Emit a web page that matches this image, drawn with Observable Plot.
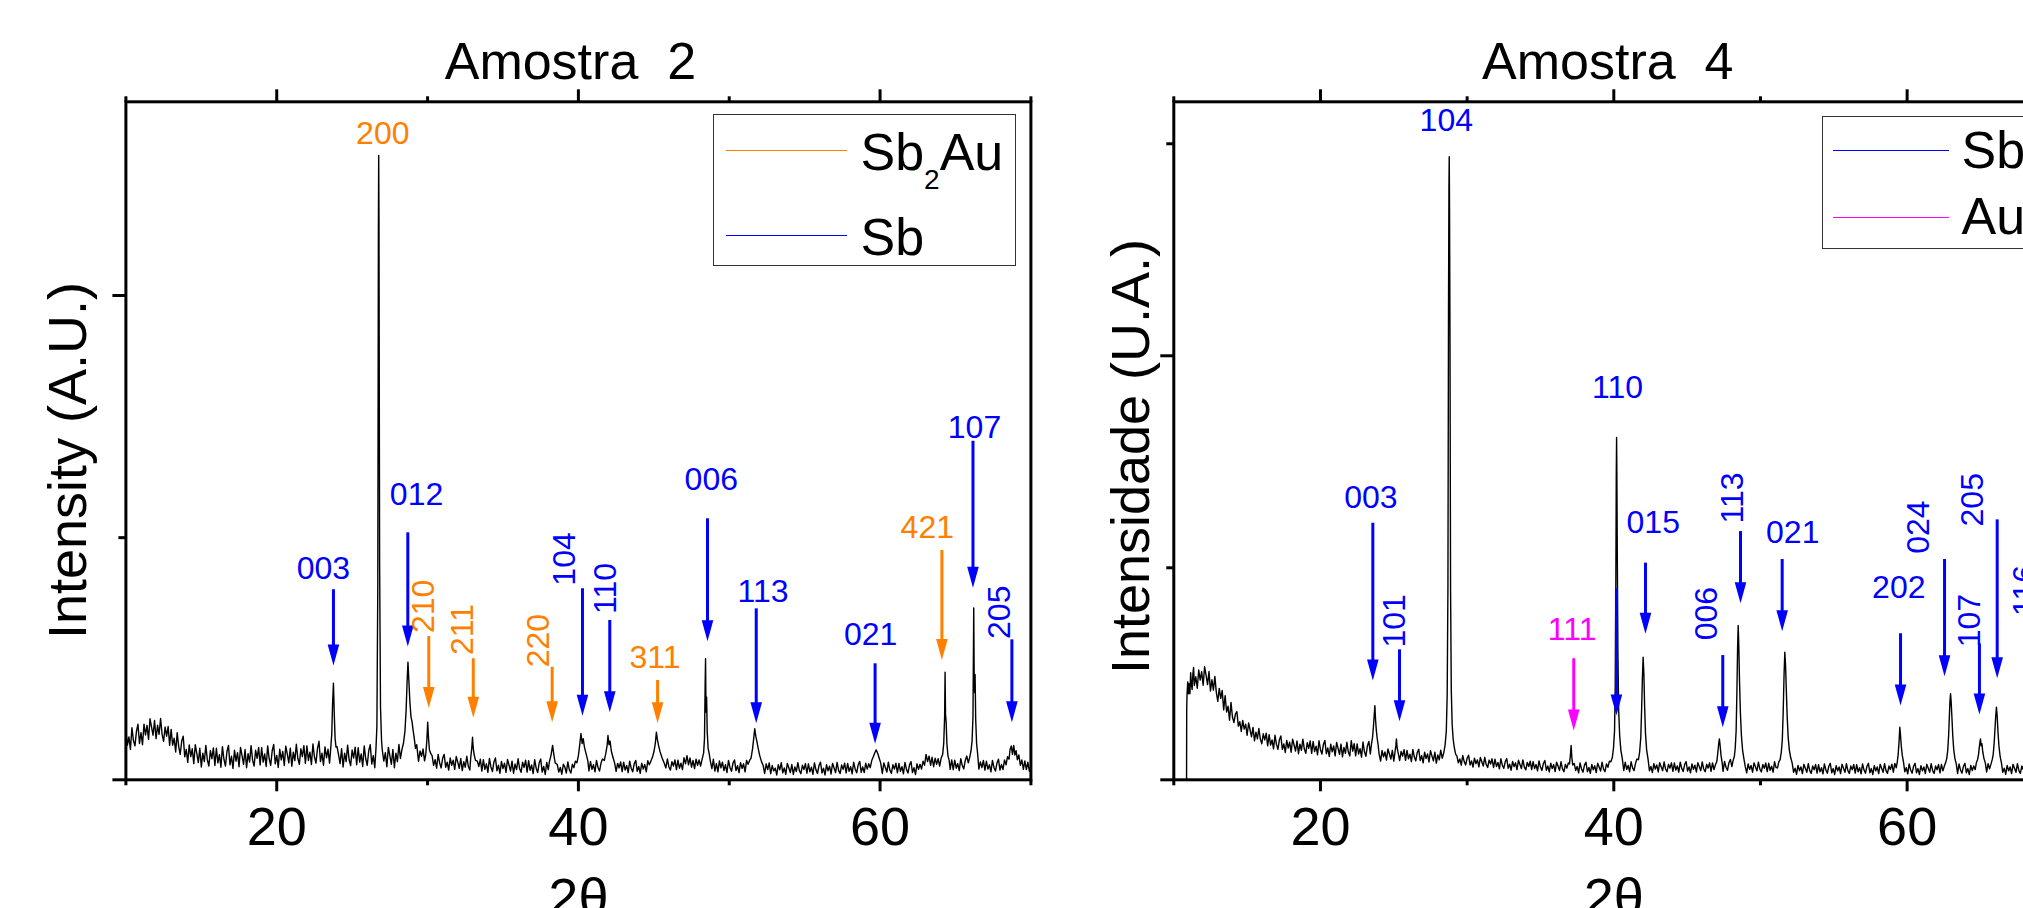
<!DOCTYPE html>
<html><head><meta charset="utf-8">
<script src="https://cdn.jsdelivr.net/npm/d3@7"></script>
<script src="https://cdn.jsdelivr.net/npm/@observablehq/plot@0.6"></script>
<style>
html,body{margin:0;padding:0;overflow:hidden;background:#fff;width:2023px;height:908px}
#wrap{position:relative;width:2023px;height:908px;overflow:hidden}
.panel{position:absolute;top:0}
.legend{position:absolute;border:1.5px solid #333;box-sizing:border-box;background:#fff}
.lline{position:absolute;height:0}
.ltext{position:absolute;font-family:"Liberation Sans",Arial,sans-serif;font-size:52px;line-height:1;white-space:nowrap;color:#000}
</style></head><body><div id="wrap"></div>
<script>
// ---------------- data ----------------
const titles = ["Amostra  2", "Amostra  4"];
const yLabels = ["Intensity (A.U.)", "Intensidade (U.A.)"];
const xLabel = "2θ";
const xMajorTicks = [20, 40, 60];
const xMinorTicks = [10, 30, 50, 70];
const yMajorTicks2 = [0, 2000], yMinorTicks2 = [1000];
const yMajorTicks4 = [0, 2000], yMinorTicks4 = [1000, 3000];
const phaseColors = {Sb2Au: "#ff8000", Sb: "#0000ff", Au: "#ff00ff"};
const legend2 = ["Sb2Au", "Sb"];
const legend4 = ["Sb", "Au"];

// XRD pattern, sample 2: [2θ, counts]
const pattern2 = [[10.0,203],[10.1,143],[10.2,177],[10.3,125],[10.4,215],[10.5,162],[10.6,140],[10.7,200],[10.8,230],[10.9,150],[11.0,195],[11.1,145],[11.2,230],[11.3,185],[11.4,225],[11.5,167],[11.6,252],[11.7,218],[11.8,184],[11.9,245],[12.0,170],[12.1,225],[12.2,188],[12.3,253],[12.4,188],[12.5,159],[12.6,218],[12.7,180],[12.8,220],[12.9,142],[13.0,208],[13.1,143],[13.2,172],[13.3,115],[13.4,195],[13.5,137],[13.6,105],[13.7,160],[13.8,180],[13.9,95],[14.0,125],[14.1,72],[14.2,144],[14.3,96],[14.4,128],[14.5,67],[14.6,145],[14.7,109],[14.8,71],[14.9,130],[15.0,53],[15.1,110],[15.2,75],[15.3,142],[15.4,82],[15.5,57],[15.6,121],[15.7,87],[15.8,132],[15.9,59],[16.0,130],[16.1,70],[16.2,104],[16.3,52],[16.4,137],[16.5,84],[16.6,57],[16.7,117],[16.8,142],[16.9,62],[17.0,97],[17.1,47],[17.2,122],[17.3,77],[17.4,112],[17.5,54],[17.6,134],[17.7,100],[17.8,64],[17.9,125],[18.0,50],[18.1,108],[18.2,73],[18.3,141],[18.4,81],[18.5,57],[18.6,122],[18.7,89],[18.8,134],[18.9,61],[19.0,133],[19.1,73],[19.2,107],[19.3,55],[19.4,140],[19.5,87],[19.6,60],[19.7,120],[19.8,146],[19.9,66],[20.0,101],[20.1,51],[20.2,126],[20.3,82],[20.4,117],[20.5,59],[20.6,139],[20.7,106],[20.8,70],[20.9,131],[21.0,56],[21.1,114],[21.2,79],[21.3,147],[21.4,88],[21.5,64],[21.6,128],[21.7,96],[21.8,141],[21.9,68],[22.0,140],[22.1,80],[22.2,114],[22.3,63],[22.4,148],[22.5,95],[22.6,69],[22.7,129],[22.8,159],[22.9,75],[23.0,110],[23.1,60],[23.2,136],[23.3,91],[23.4,126],[23.5,69],[23.58,130],[23.65,190],[23.7,310],[23.76,399],[23.81,280],[23.87,170],[23.93,135],[24.0,137],[24.1,103],[24.2,67],[24.3,128],[24.4,53],[24.5,110],[24.6,75],[24.7,143],[24.8,83],[24.9,59],[25.0,123],[25.1,90],[25.2,135],[25.3,62],[25.4,133],[25.5,73],[25.6,107],[25.7,55],[25.8,140],[25.9,87],[26.0,60],[26.1,120],[26.2,145],[26.3,65],[26.4,100],[26.5,50],[26.58,130],[26.64,220],[26.7,800],[26.74,2250],[26.76,2578],[26.78,2300],[26.82,900],[26.88,300],[26.95,160],[27.0,122],[27.1,77],[27.2,112],[27.3,54],[27.4,134],[27.5,100],[27.6,64],[27.7,125],[27.8,50],[27.9,110],[28.0,75],[28.1,146],[28.2,88],[28.3,125],[28.4,150],[28.5,200],[28.58,290],[28.64,400],[28.7,486],[28.76,410],[28.83,320],[28.9,260],[28.97,240],[29.04,205],[29.12,170],[29.2,130],[29.28,145],[29.4,76],[29.5,119],[29.6,97],[29.7,127],[29.8,78],[29.88,105],[29.95,160],[30.01,238],[30.06,175],[30.12,125],[30.2,110],[30.3,100],[30.4,60],[30.5,83],[30.6,48],[30.7,105],[30.8,70],[30.9,49],[31.0,89],[31.1,105],[31.2,52],[31.3,73],[31.4,40],[31.5,90],[31.6,60],[31.7,81],[31.8,43],[31.9,96],[32.0,73],[32.1,47],[32.2,88],[32.3,38],[32.4,75],[32.5,52],[32.6,97],[32.7,56],[32.8,40],[32.86,90],[32.93,130],[32.98,176],[33.03,130],[33.1,100],[33.18,80],[33.3,77],[33.4,55],[33.5,85],[33.6,36],[33.7,83],[33.8,43],[33.9,66],[34.0,31],[34.1,88],[34.2,53],[34.3,34],[34.4,74],[34.5,90],[34.6,37],[34.7,60],[34.8,27],[34.9,76],[35.0,46],[35.1,69],[35.2,31],[35.3,84],[35.4,61],[35.5,36],[35.6,77],[35.7,27],[35.8,65],[35.9,42],[36.0,87],[36.1,47],[36.2,31],[36.3,73],[36.4,51],[36.5,81],[36.6,32],[36.7,79],[36.8,39],[36.9,61],[37.0,26],[37.1,83],[37.2,48],[37.3,30],[37.4,70],[37.5,86],[37.6,32],[37.7,55],[37.8,22],[37.9,72],[38.0,42],[38.08,75],[38.18,100],[38.29,142],[38.37,105],[38.46,70],[38.6,63],[38.7,32],[38.8,51],[38.9,23],[39.0,64],[39.1,53],[39.2,28],[39.3,74],[39.4,41],[39.5,28],[39.6,64],[39.7,50],[39.8,77],[39.9,70],[40.0,100],[40.08,140],[40.17,191],[40.25,150],[40.32,170],[40.4,135],[40.5,110],[40.62,80],[40.7,37],[40.8,76],[40.9,43],[41.0,62],[41.1,33],[41.2,80],[41.3,51],[41.4,36],[41.5,69],[41.6,86],[41.72,80],[41.82,110],[41.9,140],[41.96,183],[42.03,145],[42.1,160],[42.18,120],[42.28,95],[42.4,70],[42.5,35],[42.6,68],[42.7,49],[42.8,74],[42.9,34],[43.0,73],[43.1,40],[43.2,59],[43.3,30],[43.4,77],[43.5,48],[43.6,33],[43.7,66],[43.8,80],[43.9,35],[44.0,55],[44.1,27],[44.2,69],[44.3,44],[44.4,63],[44.5,33],[44.6,79],[44.7,62],[44.8,77],[44.92,95],[45.02,120],[45.1,150],[45.17,197],[45.24,165],[45.32,140],[45.42,115],[45.55,90],[45.68,70],[45.8,49],[45.9,86],[46.0,53],[46.1,40],[46.2,75],[46.3,57],[46.4,82],[46.5,42],[46.6,81],[46.7,48],[46.8,69],[46.9,42],[47.0,91],[47.1,66],[47.2,100],[47.3,62],[47.4,90],[47.5,52],[47.6,80],[47.7,46],[47.8,85],[47.9,60],[48.0,82],[48.1,57],[48.2,84],[48.3,110],[48.36,170],[48.4,380],[48.43,500],[48.46,280],[48.5,341],[48.54,200],[48.6,130],[48.68,105],[48.75,77],[48.85,46],[48.95,85],[49.05,36],[49.15,67],[49.25,33],[49.35,78],[49.45,49],[49.55,73],[49.65,38],[49.75,62],[49.85,30],[49.95,80],[50.05,51],[50.15,35],[50.25,69],[50.35,82],[50.45,38],[50.55,58],[50.65,30],[50.75,71],[50.85,47],[50.95,66],[51.05,33],[51.15,80],[51.25,64],[51.35,80],[51.45,90],[51.55,130],[51.63,175],[51.69,211],[51.76,180],[51.83,160],[51.92,130],[52.02,100],[52.14,75],[52.25,59],[52.35,26],[52.45,66],[52.55,42],[52.65,70],[52.75,25],[52.85,59],[52.95,37],[53.05,48],[53.15,20],[53.25,62],[53.35,41],[53.45,71],[53.55,29],[53.65,49],[53.75,23],[53.85,68],[53.95,50],[54.05,30],[54.15,63],[54.25,22],[54.35,53],[54.45,34],[54.55,71],[54.65,38],[54.75,25],[54.85,60],[54.95,42],[55.05,67],[55.15,27],[55.25,66],[55.35,33],[55.45,52],[55.55,23],[55.65,70],[55.75,41],[55.85,26],[55.95,59],[56.05,73],[56.15,28],[56.25,48],[56.35,20],[56.45,62],[56.55,37],[56.65,56],[56.75,24],[56.85,68],[56.95,49],[57.05,30],[57.15,72],[57.25,39],[57.35,26],[57.45,61],[57.55,43],[57.65,69],[57.75,29],[57.85,68],[57.95,35],[58.05,54],[58.15,25],[58.25,73],[58.35,44],[58.45,29],[58.55,62],[58.65,76],[58.75,31],[58.85,53],[58.95,30],[59.05,69],[59.15,44],[59.25,66],[59.35,50],[59.45,80],[59.55,95],[59.64,110],[59.74,124],[59.84,110],[59.94,90],[60.04,70],[60.15,26],[60.25,70],[60.35,51],[60.45,32],[60.55,73],[60.65,40],[60.75,27],[60.85,62],[60.95,44],[61.05,69],[61.15,29],[61.25,68],[61.35,35],[61.45,54],[61.55,25],[61.65,72],[61.75,43],[61.85,28],[61.95,61],[62.05,75],[62.15,30],[62.25,50],[62.35,22],[62.45,66],[62.55,43],[62.65,64],[62.75,44],[62.85,77],[62.95,60],[63.05,105],[63.15,75],[63.25,98],[63.35,60],[63.45,93],[63.55,54],[63.65,89],[63.75,64],[63.85,87],[63.95,57],[64.05,90],[64.15,105],[64.22,150],[64.28,260],[64.31,444],[64.34,270],[64.38,240],[64.43,150],[64.5,100],[64.58,80],[64.65,43],[64.75,82],[64.85,42],[64.95,81],[65.05,48],[65.15,67],[65.25,38],[65.35,87],[65.45,59],[65.55,45],[65.65,80],[65.75,98],[65.85,70],[65.95,95],[66.03,120],[66.1,160],[66.16,260],[66.21,710],[66.24,420],[66.27,360],[66.3,435],[66.34,250],[66.4,150],[66.48,100],[66.55,44],[66.65,74],[66.75,50],[66.85,80],[66.95,40],[67.05,77],[67.15,44],[67.25,62],[67.35,33],[67.45,80],[67.55,51],[67.65,36],[67.75,69],[67.85,85],[67.95,40],[68.05,63],[68.15,42],[68.25,82],[68.35,62],[68.45,95],[68.55,85],[68.62,125],[68.7,140],[68.78,105],[68.86,142],[68.94,102],[69.02,120],[69.1,83],[69.2,103],[69.3,60],[69.4,82],[69.5,43],[69.6,78],[69.7,42],[69.8,73],[69.9,35],[70.0,60]];

// XRD pattern, sample 4: [2θ, counts]
const pattern4 = [[10.87,0],[10.88,330],[10.9,400],[10.95,462],[11.0,406],[11.05,453],[11.1,406],[11.15,505],[11.2,451],[11.25,426],[11.3,498],[11.35,530],[11.4,445],[11.5,486],[11.6,432],[11.7,518],[11.8,470],[11.9,510],[12.0,446],[12.1,533],[12.2,494],[12.3,449],[12.4,511],[12.5,419],[12.6,472],[12.7,423],[12.8,488],[12.9,412],[13.0,370],[13.1,431],[13.2,384],[13.3,422],[13.4,330],[13.5,397],[13.6,320],[13.7,347],[13.8,281],[13.9,365],[14.0,296],[14.1,270],[14.2,310],[14.3,322],[14.4,253],[14.5,274],[14.6,228],[14.7,280],[14.8,239],[14.9,262],[15.0,210],[15.1,268],[15.2,236],[15.3,203],[15.4,247],[15.5,184],[15.6,225],[15.7,193],[15.8,242],[15.9,192],[16.0,170],[16.1,217],[16.2,188],[16.3,220],[16.4,160],[16.5,213],[16.6,164],[16.7,188],[16.8,146],[16.9,210],[17.0,167],[17.1,144],[17.2,189],[17.3,207],[17.4,143],[17.5,169],[17.6,129],[17.7,186],[17.8,150],[17.9,177],[18.0,130],[18.1,192],[18.2,164],[18.3,136],[18.4,183],[18.5,123],[18.6,168],[18.7,139],[18.8,192],[18.9,145],[19.0,125],[19.1,175],[19.2,148],[19.3,183],[19.4,125],[19.5,181],[19.6,133],[19.7,159],[19.8,118],[19.9,184],[20.0,142],[20.1,121],[20.2,167],[20.3,186],[20.4,123],[20.5,150],[20.6,110],[20.7,168],[20.8,132],[20.9,160],[21.0,113],[21.1,176],[21.2,148],[21.3,120],[21.4,168],[21.5,108],[21.6,153],[21.7,125],[21.8,177],[21.9,131],[22.0,112],[22.1,185],[22.2,135],[22.3,170],[22.4,113],[22.5,169],[22.6,121],[22.7,147],[22.8,107],[22.9,178],[23.0,132],[23.1,111],[23.2,160],[23.3,181],[23.4,122],[23.48,170],[23.55,200],[23.61,250],[23.66,300],[23.71,350],[23.75,290],[23.8,240],[23.86,200],[23.93,165],[24.0,121],[24.1,88],[24.2,138],[24.3,108],[24.4,131],[24.5,93],[24.6,145],[24.7,122],[24.8,98],[24.9,139],[25.0,88],[25.08,130],[25.14,160],[25.18,193],[25.23,150],[25.3,126],[25.4,91],[25.5,134],[25.6,112],[25.7,142],[25.8,92],[25.9,139],[26.0,99],[26.1,121],[26.2,86],[26.3,143],[26.4,107],[26.5,89],[26.6,129],[26.7,144],[26.8,91],[26.9,114],[27.0,80],[27.1,130],[27.2,100],[27.3,122],[27.4,84],[27.5,137],[27.6,113],[27.7,89],[27.8,130],[27.9,79],[28.0,117],[28.1,94],[28.2,140],[28.3,102],[28.4,125],[28.5,165],[28.58,230],[28.64,400],[28.69,900],[28.73,2200],[28.76,2800],[28.78,2939],[28.8,2700],[28.83,2100],[28.87,900],[28.92,420],[28.98,260],[29.05,190],[29.13,150],[29.22,120],[29.3,113],[29.4,80],[29.5,98],[29.6,69],[29.7,115],[29.8,86],[29.9,70],[30.0,102],[30.1,116],[30.2,70],[30.3,89],[30.4,60],[30.5,102],[30.6,76],[30.7,94],[30.8,61],[30.9,105],[31.0,85],[31.1,65],[31.2,106],[31.3,72],[31.4,58],[31.5,93],[31.6,74],[31.7,99],[31.8,58],[31.9,97],[32.0,63],[32.1,82],[32.2,52],[32.3,99],[32.4,69],[32.5,54],[32.6,86],[32.7,100],[32.8,54],[32.9,74],[33.0,45],[33.1,87],[33.2,62],[33.3,80],[33.4,48],[33.5,92],[33.6,72],[33.7,53],[33.8,94],[33.9,60],[34.0,47],[34.1,82],[34.2,63],[34.3,88],[34.4,48],[34.5,86],[34.6,53],[34.7,72],[34.8,42],[34.9,89],[35.0,60],[35.1,44],[35.2,77],[35.3,91],[35.4,45],[35.5,65],[35.6,37],[35.7,78],[35.8,53],[35.9,72],[36.0,39],[36.1,83],[36.2,64],[36.3,44],[36.4,85],[36.5,52],[36.6,38],[36.7,73],[36.8,55],[36.9,79],[36.98,75],[37.04,115],[37.09,162],[37.14,105],[37.2,70],[37.3,77],[37.4,44],[37.5,63],[37.6,33],[37.7,80],[37.8,51],[37.9,36],[38.0,69],[38.1,83],[38.2,38],[38.3,58],[38.4,30],[38.5,72],[38.6,47],[38.7,66],[38.8,34],[38.9,78],[39.0,60],[39.1,41],[39.2,83],[39.3,50],[39.4,38],[39.5,75],[39.6,59],[39.7,88],[39.8,85],[39.9,105],[39.98,150],[40.05,230],[40.1,450],[40.14,950],[40.17,1450],[40.19,1615],[40.21,1450],[40.24,1050],[40.28,600],[40.33,330],[40.4,210],[40.48,140],[40.58,100],[40.68,44],[40.78,83],[40.88,49],[40.98,68],[41.08,38],[41.18,85],[41.28,56],[41.38,43],[41.48,78],[41.58,98],[41.68,95],[41.76,130],[41.84,200],[41.9,340],[41.95,480],[42.0,578],[42.05,500],[42.1,350],[42.16,220],[42.24,140],[42.33,100],[42.43,43],[42.53,63],[42.63,34],[42.73,76],[42.83,51],[42.93,70],[43.03,37],[43.13,81],[43.23,62],[43.33,43],[43.43,84],[43.53,51],[43.63,38],[43.73,73],[43.83,55],[43.93,80],[44.03,40],[44.13,79],[44.23,46],[44.33,65],[44.43,36],[44.53,83],[44.63,54],[44.73,39],[44.83,72],[44.93,86],[45.03,41],[45.13,61],[45.23,33],[45.33,75],[45.43,50],[45.53,69],[45.63,37],[45.73,81],[45.83,62],[45.93,43],[46.03,84],[46.13,51],[46.23,38],[46.33,73],[46.43,55],[46.53,80],[46.63,40],[46.73,80],[46.83,48],[46.93,71],[47.02,85],[47.09,125],[47.15,170],[47.2,193],[47.25,160],[47.31,115],[47.38,85],[47.45,40],[47.55,87],[47.65,59],[47.75,45],[47.85,80],[47.95,96],[48.05,62],[48.15,95],[48.22,110],[48.28,150],[48.34,230],[48.39,400],[48.44,620],[48.48,728],[48.52,640],[48.57,470],[48.63,320],[48.7,210],[48.78,140],[48.87,100],[48.96,63],[49.06,33],[49.16,75],[49.26,49],[49.36,68],[49.46,36],[49.56,80],[49.66,61],[49.76,42],[49.86,83],[49.96,50],[50.06,37],[50.16,72],[50.26,54],[50.36,79],[50.46,39],[50.56,78],[50.66,45],[50.76,64],[50.86,36],[50.96,85],[51.06,58],[51.16,56],[51.26,86],[51.34,95],[51.42,130],[51.49,190],[51.55,320],[51.61,500],[51.66,602],[51.71,540],[51.76,430],[51.82,300],[51.89,200],[51.97,140],[52.06,105],[52.16,80],[52.26,35],[52.36,55],[52.46,26],[52.56,68],[52.66,43],[52.76,61],[52.86,29],[52.96,73],[53.06,54],[53.16,35],[53.26,76],[53.36,43],[53.46,30],[53.56,65],[53.66,47],[53.76,72],[53.86,32],[53.96,71],[54.06,38],[54.16,57],[54.26,28],[54.36,75],[54.46,46],[54.56,31],[54.66,64],[54.76,78],[54.86,33],[54.96,53],[55.06,25],[55.16,67],[55.26,42],[55.36,61],[55.46,29],[55.56,73],[55.66,54],[55.76,35],[55.86,76],[55.96,43],[56.06,30],[56.16,65],[56.26,47],[56.36,72],[56.46,32],[56.56,71],[56.66,38],[56.76,57],[56.86,28],[56.96,75],[57.06,46],[57.16,31],[57.26,64],[57.36,78],[57.46,33],[57.56,53],[57.66,25],[57.76,67],[57.86,42],[57.96,61],[58.06,29],[58.16,73],[58.26,54],[58.36,35],[58.46,76],[58.56,43],[58.66,30],[58.76,65],[58.86,48],[58.96,74],[59.06,36],[59.16,77],[59.26,57],[59.33,85],[59.39,120],[59.45,180],[59.5,248],[59.55,210],[59.6,160],[59.67,115],[59.75,85],[59.84,38],[59.94,57],[60.04,28],[60.14,75],[60.24,46],[60.34,31],[60.44,64],[60.54,78],[60.64,33],[60.74,53],[60.84,25],[60.94,67],[61.04,42],[61.14,61],[61.24,29],[61.34,73],[61.44,54],[61.54,35],[61.64,76],[61.74,43],[61.84,30],[61.94,65],[62.04,47],[62.14,72],[62.24,33],[62.34,73],[62.44,42],[62.54,65],[62.62,80],[62.7,100],[62.77,140],[62.83,210],[62.88,300],[62.92,370],[62.96,406],[63.0,370],[63.05,300],[63.11,210],[63.18,140],[63.26,100],[63.35,75],[63.44,30],[63.54,75],[63.64,46],[63.74,31],[63.84,64],[63.94,78],[64.04,33],[64.14,53],[64.24,25],[64.34,68],[64.44,44],[64.54,65],[64.64,48],[64.72,80],[64.8,95],[64.87,120],[64.93,160],[65.0,193],[65.05,160],[65.1,170],[65.16,130],[65.24,100],[65.33,80],[65.42,37],[65.52,76],[65.62,52],[65.72,75],[65.8,95],[65.87,120],[65.93,170],[65.99,240],[66.04,300],[66.09,343],[66.14,300],[66.19,230],[66.26,160],[66.34,110],[66.43,80],[66.52,35],[66.62,55],[66.72,26],[66.82,68],[66.92,42],[67.02,61],[67.12,29],[67.22,73],[67.32,54],[67.42,35],[67.52,76],[67.62,43],[67.72,30],[67.82,65],[67.92,47],[68.02,72],[68.12,32],[68.22,71],[68.32,40],[68.42,65],[68.52,80],[68.58,110],[68.64,170],[68.7,240],[68.76,190],[68.83,120],[68.92,80],[69.0,46],[69.1,31],[69.2,64],[69.3,78],[69.4,33],[69.5,53],[69.6,25],[69.7,67],[69.8,42],[69.9,61],[70.0,29]];

// peak annotations: hkl, phase, label position (2θ, counts), vertical label, arrow 2θ, arrow top, arrow tip (counts)
const peaks2 = [
  {hkl:"200", phase:"Sb2Au", lx:27.03, ly:2668, vertical:false},
  {hkl:"003", phase:"Sb",    lx:23.09, ly:872,  vertical:false, ax:23.76, top:785,  tip:472},
  {hkl:"012", phase:"Sb",    lx:29.27, ly:1177, vertical:false, ax:28.69, top:1020, tip:550},
  {hkl:"210", phase:"Sb2Au", lx:29.73, ly:716,  vertical:true,  ax:30.08, top:592,  tip:297},
  {hkl:"211", phase:"Sb2Au", lx:32.30, ly:621,  vertical:true,  ax:33.03, top:500,  tip:256},
  {hkl:"220", phase:"Sb2Au", lx:37.38, ly:575,  vertical:true,  ax:38.26, top:465,  tip:238},
  {hkl:"104", phase:"Sb",    lx:39.08, ly:912,  vertical:true,  ax:40.27, top:789,  tip:265},
  {hkl:"110", phase:"Sb",    lx:41.82, ly:790,  vertical:true,  ax:42.08, top:658,  tip:279},
  {hkl:"311", phase:"Sb2Au", lx:45.08, ly:506,  vertical:false, ax:45.25, top:410,  tip:234},
  {hkl:"006", phase:"Sb",    lx:48.81, ly:1239, vertical:false, ax:48.56, top:1078, tip:572},
  {hkl:"113", phase:"Sb",    lx:52.24, ly:777,  vertical:false, ax:51.79, top:706,  tip:234},
  {hkl:"021", phase:"Sb",    lx:59.37, ly:600,  vertical:false, ax:59.67, top:479,  tip:149},
  {hkl:"421", phase:"Sb2Au", lx:63.13, ly:1040, vertical:false, ax:64.10, top:947,  tip:495},
  {hkl:"107", phase:"Sb",    lx:66.26, ly:1455, vertical:false, ax:66.16, top:1398, tip:793},
  {hkl:"205", phase:"Sb",    lx:67.92, ly:692,  vertical:true,  ax:68.74, top:578,  tip:238}
];
const peaks4 = [
  {hkl:"104", phase:"Sb", lx:28.58, ly:3108, vertical:false},
  {hkl:"003", phase:"Sb", lx:23.44, ly:1331, vertical:false, ax:23.57, top:1210, tip:468},
  {hkl:"101", phase:"Sb", lx:25.06, ly:750,  vertical:true,  ax:25.39, top:613,  tip:276},
  {hkl:"111", phase:"Au", lx:37.16, ly:710,  vertical:false, ax:37.27, top:571,  tip:233},
  {hkl:"110", phase:"Sb", lx:40.26, ly:1849, vertical:false, ax:40.18, top:901,  tip:303},
  {hkl:"015", phase:"Sb", lx:42.69, ly:1213, vertical:false, ax:42.16, top:1022, tip:689},
  {hkl:"006", phase:"Sb", lx:46.37, ly:784,  vertical:true,  ax:47.43, top:586,  tip:248},
  {hkl:"113", phase:"Sb", lx:48.09, ly:1329, vertical:true,  ax:48.64, top:1171, tip:833},
  {hkl:"021", phase:"Sb", lx:52.20, ly:1163, vertical:false, ax:51.48, top:1039, tip:701},
  {hkl:"202", phase:"Sb", lx:59.43, ly:908,  vertical:false, ax:59.55, top:689,  tip:350},
  {hkl:"024", phase:"Sb", lx:60.80, ly:1192, vertical:true,  ax:62.55, top:1039, tip:489},
  {hkl:"107", phase:"Sb", lx:64.27, ly:751,  vertical:true,  ax:64.93, top:641,  tip:308},
  {hkl:"205", phase:"Sb", lx:64.44, ly:1321, vertical:true,  ax:66.14, top:1226, tip:479},
  {hkl:"116", phase:"Sb", lx:68.00, ly:893,  vertical:true,  ax:68.70, top:780,  tip:330}
];

// ---------------- drawing ----------------
const FONT = '"Liberation Sans", Arial, Helvetica, sans-serif';
const arrowHead = {draw(ctx) { ctx.moveTo(0, 0); ctx.lineTo(-5.8, -21); ctx.lineTo(5.8, -21); ctx.closePath(); }};
const col = d => phaseColors[d.phase];

function panel(o) {
  const pts = o.pattern.map(([x, y]) => ({x, y}));
  const arrows = o.peaks.filter(d => d.ax != null);
  const noTxt = () => "";
  return Plot.plot({
    width: o.width, height: 908,
    marginLeft: o.marginLeft, marginRight: o.marginRight, marginTop: 101.3, marginBottom: 128.7,
    x: {domain: [10, 70]},
    y: {domain: o.yDomain},
    color: {type: "identity"},
    style: {fontFamily: FONT, background: "transparent", overflow: "visible"},
    marks: [
      Plot.line(pts, {x: "x", y: "y", stroke: "#000", strokeWidth: 1.4}),
      Plot.ruleX(arrows, {x: "ax", y1: "top", y2: "tip", stroke: col, strokeWidth: 3, insetBottom: 12}),
      Plot.dot(arrows, {x: "ax", y: "tip", symbol: arrowHead, r: 5, fill: col, stroke: "none"}),
      Plot.text(o.peaks.filter(d => !d.vertical), {x: "lx", y: "ly", text: "hkl", fill: col, fontSize: 32}),
      Plot.text(o.peaks.filter(d => d.vertical), {x: "lx", y: "ly", text: "hkl", fill: col, fontSize: 32, rotate: -90}),
      Plot.frame({stroke: "#000", strokeWidth: 3}),
      Plot.axisX({anchor: "bottom", ticks: xMajorTicks, tickSize: 12, tickPadding: 14.7, fontSize: 54, strokeWidth: 3, label: null}),
      Plot.axisX({anchor: "bottom", ticks: xMinorTicks, tickSize: 6, tickFormat: noTxt, strokeWidth: 3, label: null}),
      Plot.axisX({anchor: "top", ticks: xMajorTicks, tickSize: 13, tickFormat: noTxt, strokeWidth: 3, label: null}),
      Plot.axisX({anchor: "top", ticks: xMinorTicks, tickSize: 6, tickFormat: noTxt, strokeWidth: 3, label: null}),
      Plot.axisY({anchor: "left", ticks: o.yMajor, tickSize: 13, tickFormat: noTxt, strokeWidth: 3, label: null}),
      Plot.axisY({anchor: "left", ticks: o.yMinor, tickSize: 7, tickFormat: noTxt, strokeWidth: 3, label: null}),
      Plot.text([o.title], {frameAnchor: "top", dy: -39.6, dx: o.titleDx, fontSize: 52, textAnchor: "middle", lineAnchor: "middle", fill: "#000"}),
      Plot.text([o.yLabel], {frameAnchor: "left", rotate: -90, dx: o.ylabDx, dy: o.ylabDy, fontSize: 54, textAnchor: "middle", lineAnchor: "middle", fill: "#000"}),
      Plot.text([xLabel], {frameAnchor: "bottom", dy: 98, fontSize: 54, textAnchor: "middle", lineAnchor: "top", fill: "#000"})
    ]
  });
}

const wrap = document.getElementById("wrap");
function place(el, left, width) {
  const d = document.createElement("div");
  d.className = "panel";
  d.style.left = left + "px";
  d.style.width = width + "px";
  d.appendChild(el);
  wrap.appendChild(d);
}

place(panel({pattern: pattern2, peaks: peaks2, yDomain: [0, 2800], yMajor: yMajorTicks2, yMinor: yMinorTicks2,
  title: titles[0], yLabel: yLabels[0], width: 1050, marginLeft: 125.4, marginRight: 19.6,
  titleDx: -8, ylabDx: -57.4, ylabDy: 19.7}), 0, 1050);
place(panel({pattern: pattern4, peaks: peaks4, yDomain: [0, 3198], yMajor: yMajorTicks4, yMinor: yMinorTicks4,
  title: titles[1], yLabel: yLabels[1], width: 1033, marginLeft: 123.3, marginRight: 29.7,
  titleDx: -6, ylabDx: -41.8, ylabDy: 15.7}), 1050, 1033);

// legends (HTML overlays)
function label(phase) {
  if (phase === "Sb2Au") return 'Sb<span style="font-size:28px;position:relative;top:19px">2</span>Au';
  return phase;
}
function legend(items, box, lineX, lineW, lineYs, textX, baselines) {
  const b = document.createElement("div");
  b.className = "legend";
  Object.assign(b.style, {left: box[0] + "px", top: box[1] + "px", width: box[2] + "px", height: box[3] + "px"});
  wrap.appendChild(b);
  items.forEach((p, i) => {
    const l = document.createElement("div");
    l.className = "lline";
    Object.assign(l.style, {left: lineX + "px", top: (lineYs[i] - 0.75) + "px", width: lineW + "px", borderTop: "1.5px solid " + phaseColors[p]});
    wrap.appendChild(l);
    const t = document.createElement("div");
    t.className = "ltext";
    t.style.left = textX + "px";
    t.style.top = (baselines[i] - 0.8465 * 52) + "px";
    t.innerHTML = label(p);
    wrap.appendChild(t);
  });
}
legend(legend2, [713, 114.3, 303, 152], 726, 121, [150.7, 235.7], 860.5, [170, 255]);
legend(legend4, [1821.6, 115.8, 260, 133.2], 1833, 116, [150.5, 217.7], 1961.5, [168, 234.5]);
</script></body></html>
